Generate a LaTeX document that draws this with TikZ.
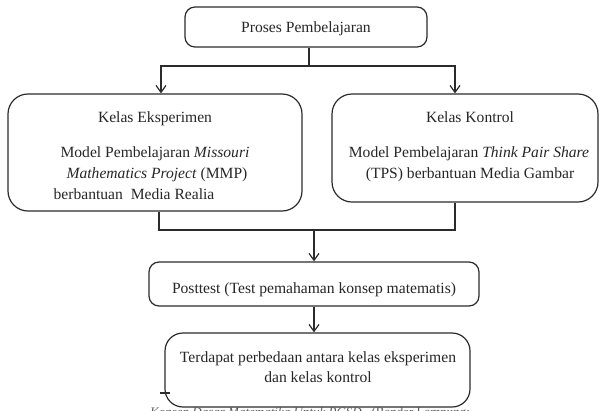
\documentclass[tikz,border=0pt]{standalone}
\usepackage{fontspec}
\setmainfont{Liberation Serif}
\usetikzlibrary{arrows.meta}
\definecolor{linec}{HTML}{2B2B2B}
\definecolor{textc}{HTML}{262626}
\begin{document}
\begin{tikzpicture}[x=1pt,y=-1pt,
  box/.style={draw=linec, line width=1.2pt, rounded corners=#1, inner sep=0pt},
  box/.default=10pt,
  txt/.style={font=\fontsize{15.6}{20}\selectfont, text=textc, inner sep=0pt, anchor=base},
  conn/.style={draw=linec, line width=1.2pt},
  arr/.style={conn, -{Straight Barb[length=7pt,width=10pt,line width=1.2pt]}}
]
\useasboundingbox (0,0) rectangle (599,410);
% boxes
\node[box=10pt, minimum width=242pt, minimum height=40pt] (top) at (306,27) {};
\node[box=20pt, minimum width=294pt, minimum height=117pt] (left) at (155,152.5) {};
\node[box=20pt, minimum width=266pt, minimum height=108pt] (right) at (465,148) {};
\node[box=10pt, minimum width=330pt, minimum height=44pt] (post) at (314,284) {};
\node[box=18pt, minimum width=305pt, minimum height=74pt] (concl) at (317.5,370) {};
% texts
\node[txt] (t0) at (306,32) {Proses Pembelajaran};
\node[txt] (l1) at (155,122) {Kelas Eksperimen};
\node[txt] (l2) at (155,157.5) {Model Pembelajaran \textit{Missouri}};
\node[txt] (l3) at (157,178) {\textit{Mathematics Project} (MMP)};
\node[txt] (l4) at (134,199) {berbantuan\ \ Media Realia};
\node[txt] (r1) at (470,122) {Kelas Kontrol};
\node[txt] (r2) at (469,157) {Model Pembelajaran \textit{Think Pair Share}};
\node[txt] (r3) at (470,178) {(TPS) berbantuan Media Gambar};
\node[txt] (p1) at (314,293) {Posttest (Test pemahaman konsep matematis)};
\node[txt] (c1) at (318,362) {Terdapat perbedaan antara kelas eksperimen};
\node[txt] (c2) at (318,382.5) {dan kelas kontrol};
% cut-off source line at the bottom edge
\node[font=\fontsize{13}{15}\selectfont, text=black!65, anchor=base west, inner sep=0pt] (src) at (150,416) {\textit{Konsep Dasar Matematika Untuk PGSD} , (Bandar Lampung:};
% connectors
\coordinate (j1) at (309,66);
\coordinate (la) at ([xshift=6pt]left.north);
\coordinate (ra) at ([xshift=-10pt]right.north);
\draw[conn] ([xshift=3pt]top.south) -- (j1);
\draw[arr] (j1) -| (la);
\draw[arr] (j1) -| (ra);
\coordinate (lb) at ([xshift=4pt]left.south);
\coordinate (rb) at ([xshift=-10pt]right.south);
\coordinate (j2) at (314,230);
\draw[conn] (lb) |- (j2);
\draw[conn] (rb) |- (j2);
\draw[arr] (j2) -- (post.north);
\draw[arr] (post.south) -- (post.south |- concl.north);
% small tick on the left edge of the last box
\coordinate (tk1) at (160,393);
\coordinate (tk2) at (170,393);
\draw[conn] (tk1) -- (tk2);
\end{tikzpicture}
\end{document}
